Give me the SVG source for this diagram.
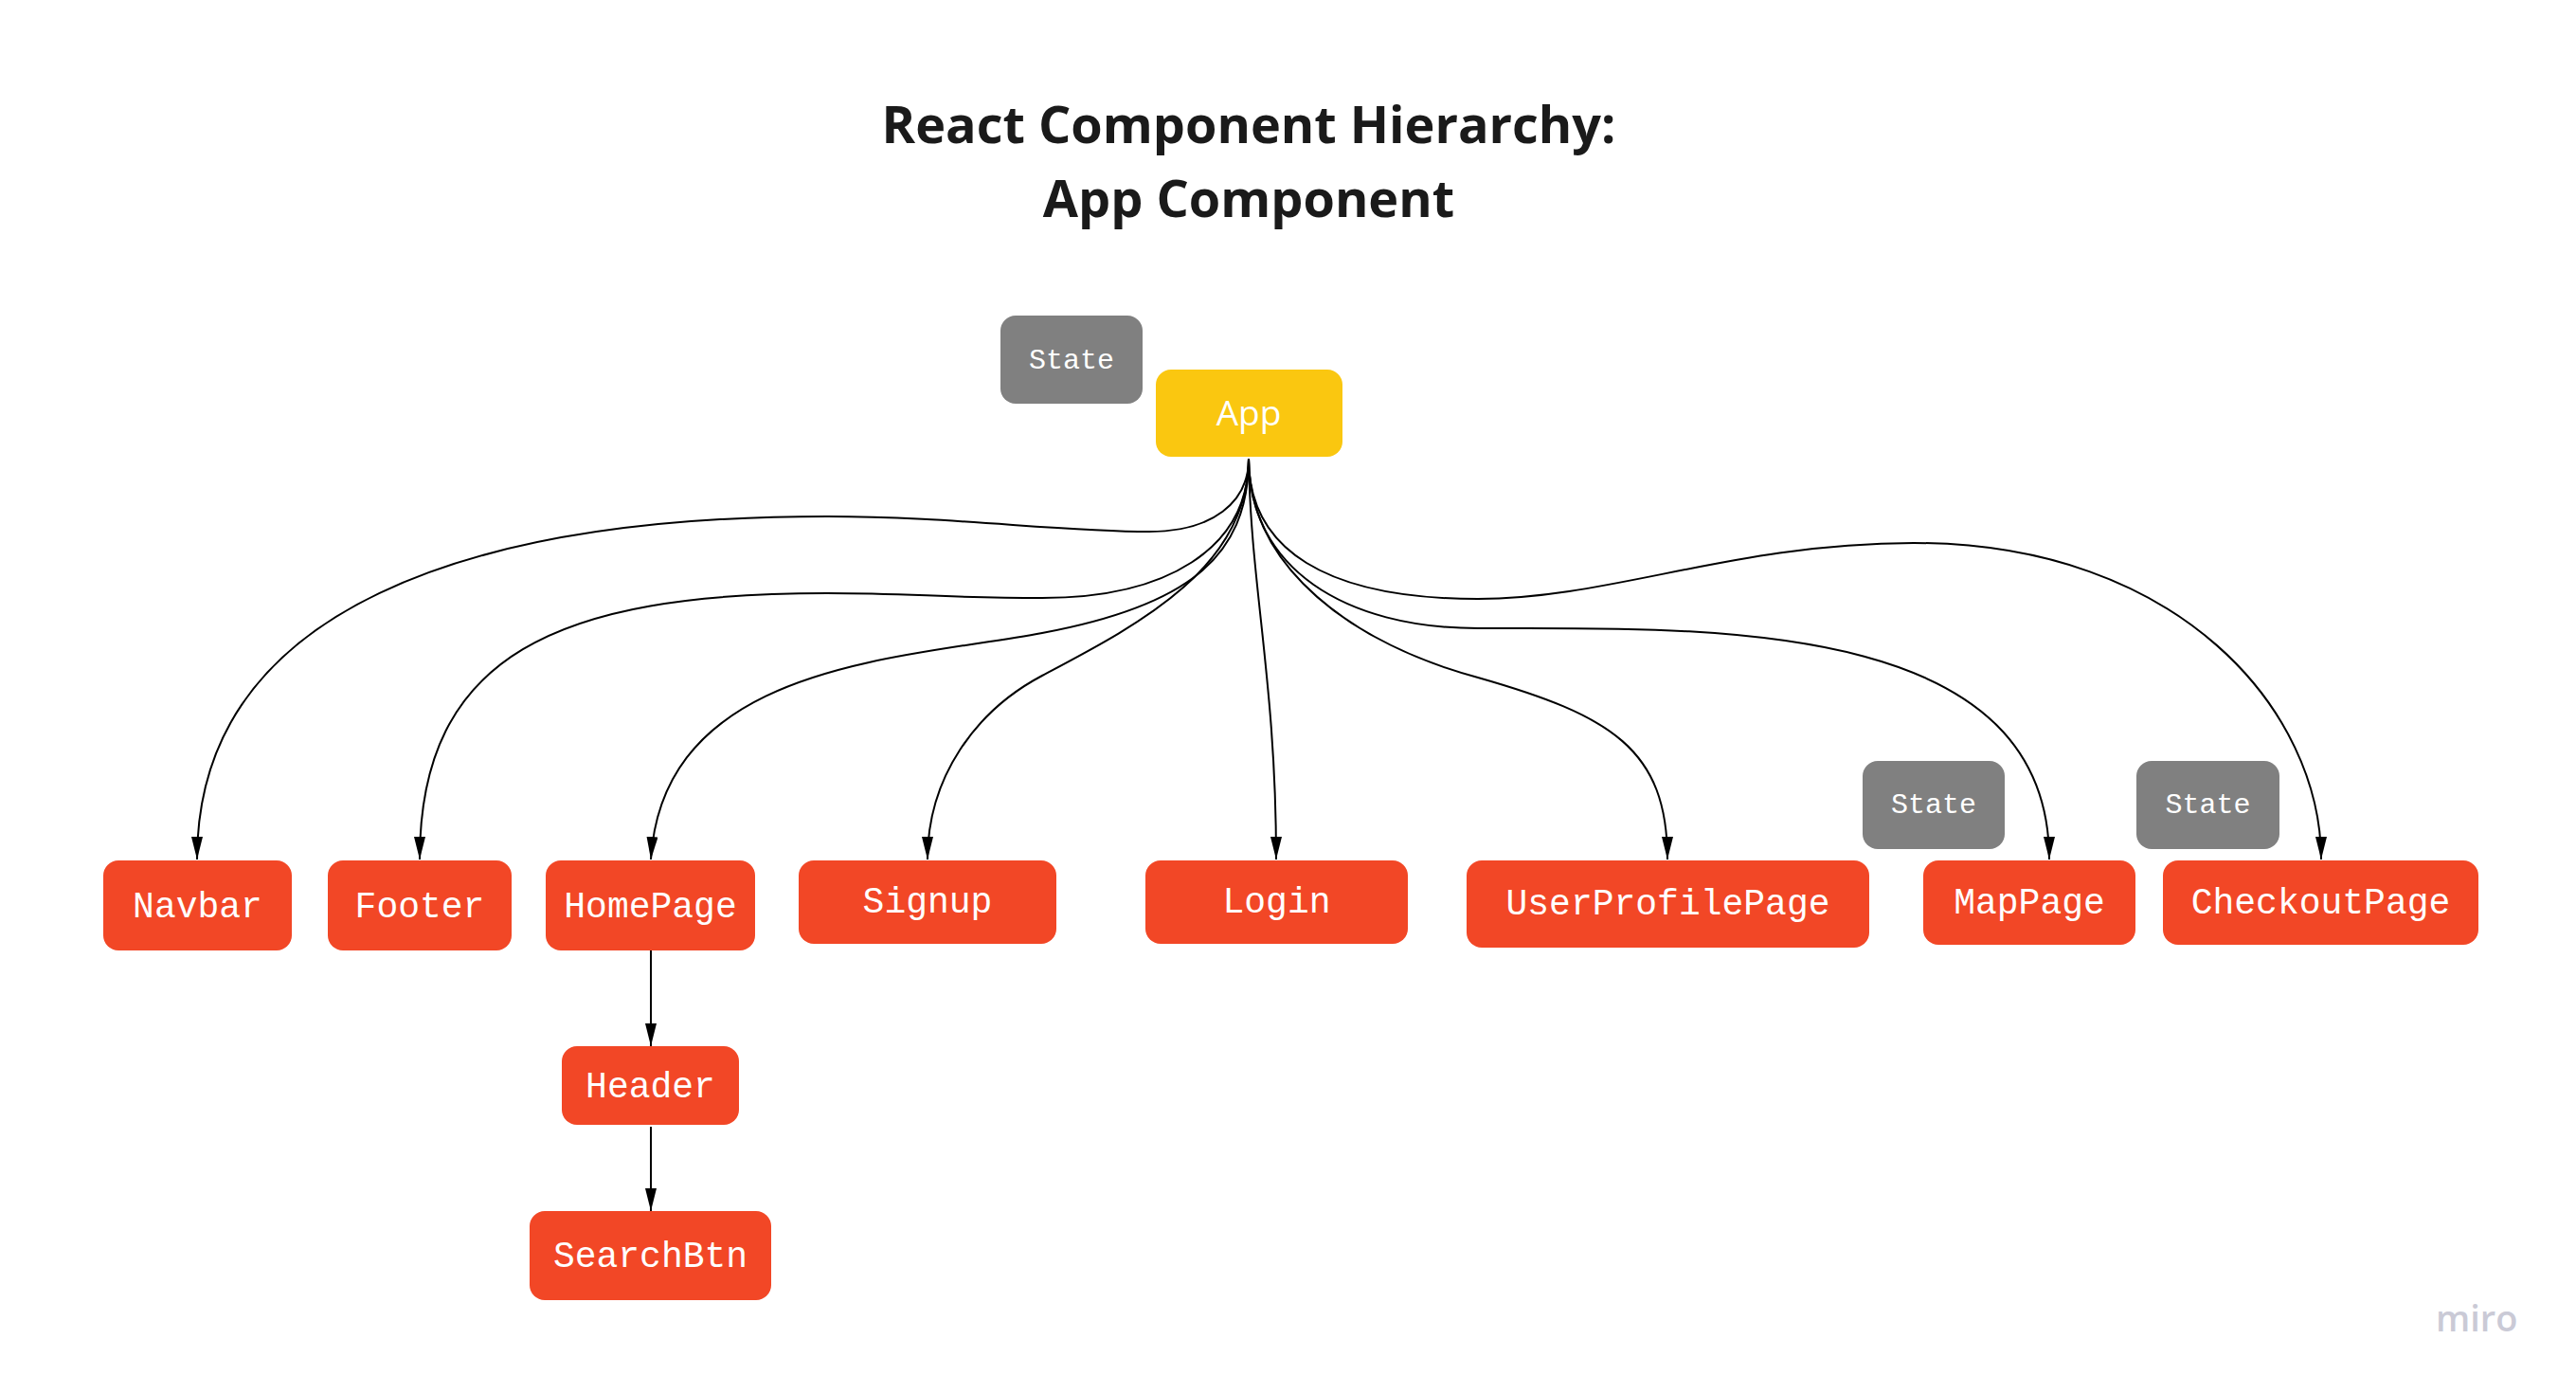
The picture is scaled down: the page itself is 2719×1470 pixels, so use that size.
<svg xmlns="http://www.w3.org/2000/svg" width="2719" height="1470" viewBox="0 0 2719 1470">
<defs>
<style>
.title{font-family:"Open Sans","Noto Sans",sans-serif;font-weight:700;font-size:54px;fill:#1a1a1a;text-anchor:middle}
.red{fill:#F24726}
.gray{fill:#808080}
.yellow{fill:#FAC710}
.lbl{font-family:"Liberation Mono","DejaVu Sans Mono",monospace;font-size:38px;fill:#ffffff;text-anchor:middle}
.st{font-family:"Liberation Mono","DejaVu Sans Mono",monospace;font-size:30px;fill:#ffffff;text-anchor:middle}
.app{font-family:"Open Sans","Noto Sans",sans-serif;font-size:37px;fill:#ffffff;text-anchor:middle}
.edge{fill:none;stroke:#000000;stroke-width:2}
.miro{font-family:"Open Sans","Noto Sans",sans-serif;font-weight:600;font-size:38px;fill:#CACAD6}
</style>
<marker id="arr" markerUnits="userSpaceOnUse" markerWidth="24" markerHeight="12" refX="24" refY="6" orient="auto">
<path d="M0,0 L24,6 L0,12 z" fill="#000000"/>
</marker>
</defs>
<rect width="2719" height="1470" fill="#ffffff"/>
<text class="title" x="1318" y="151">React Component Hierarchy:</text>
<text class="title" x="1318" y="229">App Component</text>

<g id="connectors">
<path class="edge" marker-end="url(#arr)" d="M1318,484 C1318,530 1280,561 1213,561 C1120,561 1000,545 873,545 C500,545 208,640 208,907"/>
<path class="edge" marker-end="url(#arr)" d="M1318,484 C1318,580 1230,631 1100,631 C1000,631 960,626 873,626 C590,626 443,690 443,907"/>
<path class="edge" marker-end="url(#arr)" d="M1318,484 C1318,590 1250,640 1100,668 C950,696 700,700 687,907"/>
<path class="edge" marker-end="url(#arr)" d="M1318,484 C1318,600 1200,660 1100,713 C1030,750 979,820 979,907"/>
<path class="edge" marker-end="url(#arr)" d="M1318,484 C1320,620 1347,720 1347,907"/>
<path class="edge" marker-end="url(#arr)" d="M1318,484 C1318,600 1430,680 1560,715 C1700,755 1760,790 1760,907"/>
<path class="edge" marker-end="url(#arr)" d="M1318,484 C1318,600 1420,663 1560,663 C1800,663 2163,650 2163,907"/>
<path class="edge" marker-end="url(#arr)" d="M1318,484 C1318,580 1400,632 1560,632 C1700,632 1830,573 2020,573 C2300,573 2450,750 2450,907"/>
<path class="edge" marker-end="url(#arr)" d="M687,1003 L687,1104"/>
<path class="edge" marker-end="url(#arr)" d="M687,1189 L687,1278"/>
</g>

<g id="state-app"><rect class="gray" x="1056" y="333" width="150" height="93" rx="16"/><text class="st" x="1131" y="389">State</text></g>
<g id="app"><rect class="yellow" x="1220" y="390" width="197" height="92" rx="16"/><text class="app" x="1318" y="449">App</text></g>

<g id="navbar"><rect class="red" x="109" y="908" width="199" height="95" rx="16"/><text class="lbl" x="208.5" y="968">Navbar</text></g>
<g id="footer"><rect class="red" x="346" y="908" width="194" height="95" rx="16"/><text class="lbl" x="443" y="968">Footer</text></g>
<g id="homepage"><rect class="red" x="576" y="908" width="221" height="95" rx="16"/><text class="lbl" x="686.5" y="968">HomePage</text></g>
<g id="signup"><rect class="red" x="843" y="908" width="272" height="88" rx="16"/><text class="lbl" x="979" y="963">Signup</text></g>
<g id="login"><rect class="red" x="1209" y="908" width="277" height="88" rx="16"/><text class="lbl" x="1347.5" y="963">Login</text></g>
<g id="userprofilepage"><rect class="red" x="1548" y="908" width="425" height="92" rx="16"/><text class="lbl" x="1760.5" y="965">UserProfilePage</text></g>
<g id="state-map"><rect class="gray" x="1966" y="803" width="150" height="93" rx="16"/><text class="st" x="2041" y="858">State</text></g>
<g id="mappage"><rect class="red" x="2030" y="908" width="224" height="89" rx="16"/><text class="lbl" x="2142" y="964">MapPage</text></g>
<g id="state-checkout"><rect class="gray" x="2255" y="803" width="151" height="93" rx="16"/><text class="st" x="2330.5" y="858">State</text></g>
<g id="checkoutpage"><rect class="red" x="2283" y="908" width="333" height="89" rx="16"/><text class="lbl" x="2449.5" y="964">CheckoutPage</text></g>
<g id="header"><rect class="red" x="593" y="1104" width="187" height="83" rx="16"/><text class="lbl" x="686.5" y="1158">Header</text></g>
<g id="searchbtn"><rect class="red" x="559" y="1278" width="255" height="94" rx="16"/><text class="lbl" x="686.5" y="1337">SearchBtn</text></g>

<text class="miro" x="2571" y="1405">miro</text>
</svg>
